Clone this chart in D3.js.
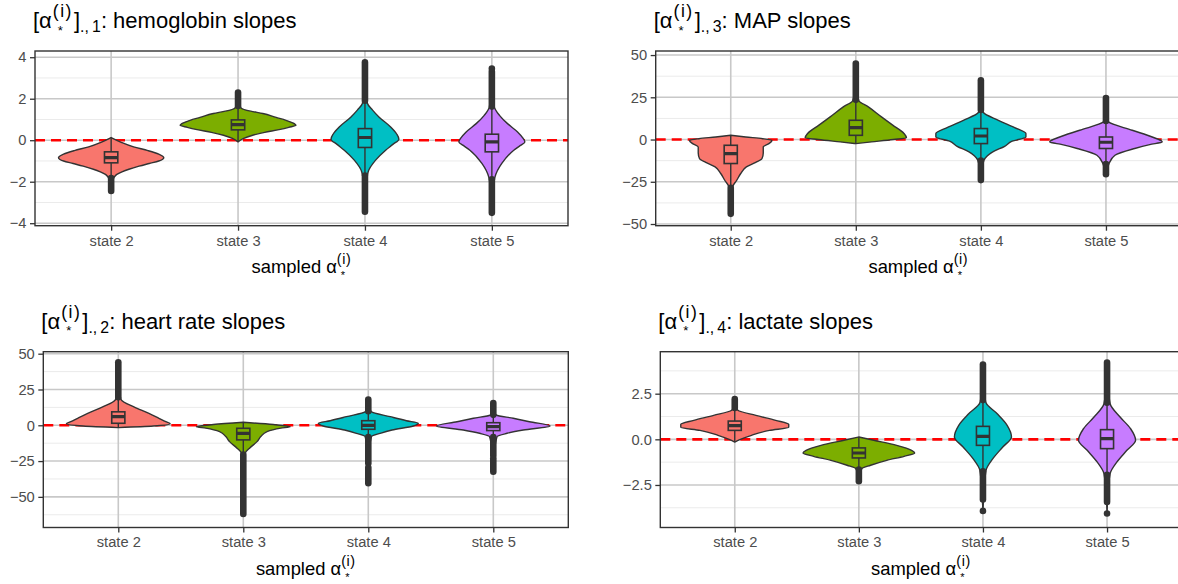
<!DOCTYPE html>
<html>
<head>
<meta charset="utf-8">
<script src="https://cdn.jsdelivr.net/npm/d3@7"></script>
<style>
  body { margin: 0; background: #fff; }
  svg { display: block; font-family: "Liberation Sans", Arial, Helvetica, sans-serif; }
  text { white-space: pre; }
</style>
</head>
<body>
<svg id="chart" width="1178" height="584"></svg>
<script>
// ---------- data ----------
const categories = ["state 2", "state 3", "state 4", "state 5"];
const fills = ["#F8766D", "#7CAE00", "#00BFC4", "#C77CFF"];

// violin profiles: [value, width as fraction of category step]
// boxes: [lower whisker, q1, median, q3, upper whisker]
// outliers: [from, to] runs of overplotted points

// hemoglobin slopes
const hemoTicks = [-4, -2, 0, 2, 4];
const hemoMinor = [-3, -1, 1, 3];
const hemoDomain = [-4.12, 4.30];
const hemoViolins = [
  [[0.13,0],[-0.1,0.16],[-0.32,0.354],[-0.5,0.58],[-0.67,0.75],[-0.84,0.83],[-1.0,0.75],[-1.12,0.6],[-1.25,0.44],[-1.4,0.28],[-1.53,0.17],[-1.65,0.09],[-1.77,0.05],[-2.0,0.02],[-2.45,0]],
  [[2.3,0],[1.8,0.02],[1.55,0.05],[1.4,0.2],[1.29,0.39],[1.1,0.6],[0.96,0.756],[0.84,0.86],[0.72,0.913],[0.62,0.8],[0.51,0.646],[0.38,0.42],[0.24,0.23],[0.08,0.08],[-0.08,0]],
  [[3.75,0],[2.5,0.01],[1.77,0.04],[1.45,0.12],[1.12,0.22],[0.64,0.405],[0.3,0.5],[0.05,0.535],[-0.2,0.44],[-0.48,0.326],[-0.96,0.168],[-1.53,0.05],[-2.5,0.01],[-3.45,0]],
  [[3.45,0],[2.5,0.01],[1.6,0.04],[1.2,0.12],[0.8,0.247],[0.4,0.405],[0.1,0.49],[-0.08,0.52],[-0.25,0.45],[-0.48,0.346],[-1.12,0.157],[-1.77,0.05],[-2.7,0.01],[-3.5,0]]
];
const hemoBoxes = [
  [-1.77, -1.09, -0.84, -0.56, 0.13],
  [-0.08, 0.5, 0.75, 0.98, 1.6],
  [-1.65, -0.35, 0.13, 0.56, 1.85],
  [-1.84, -0.56, -0.08, 0.29, 1.57]
];
const hemoOutliers = [
  [[-1.82, -2.45]],
  [[1.65, 2.3]],
  [[1.9, 3.75], [-1.7, -3.45]],
  [[1.62, 3.3], [3.45, 3.45], [-1.88, -3.5]]
];

// MAP slopes
const mapTicks = [-50, -25, 0, 25, 50];
const mapMinor = [-37.5, -12.5, 12.5, 37.5];
const mapDomain = [-51, 52.4];
const mapViolins = [
  [[2.5,0],[1.5,0.24],[0.5,0.51],[-0.5,0.66],[-2.4,0.61],[-4.4,0.52],[-8,0.52],[-11.2,0.5],[-13.5,0.4],[-16.2,0.25],[-20.1,0.16],[-24.1,0.096],[-28,0.03],[-36,0.01],[-44,0]],
  [[45,0],[30,0.01],[23,0.05],[19.3,0.2],[13.4,0.41],[8.5,0.59],[3.6,0.77],[1,0.81],[0,0.6],[-1.4,0.25],[-2.4,0]],
  [[35,0],[25,0.01],[17,0.03],[16,0.04],[11.4,0.28],[7.1,0.54],[3.6,0.72],[1.5,0.72],[-1,0.5],[-4,0.38],[-7.3,0.19],[-12.2,0.05],[-18,0.015],[-24,0]],
  [[24.5,0],[15,0.01],[11,0.03],[10.5,0.04],[5.5,0.42],[1.5,0.74],[-1.4,0.9],[-3,0.7],[-5.3,0.46],[-9.3,0.144],[-14.2,0.05],[-18,0.02],[-20.5,0]]
];
const mapBoxes = [
  [-28, -14.2, -8.3, -3.4, 2.5],
  [-2.4, 2.5, 7.1, 11.4, 23],
  [-12, -2.4, 2.1, 6.5, 17],
  [-14, -5.3, -1.6, 1.5, 10.5]
];
const mapOutliers = [
  [[-28.5, -44]],
  [[23.5, 45]],
  [[17.5, 35], [-12.5, -24]],
  [[11, 24.5], [-14.5, -20.5]]
];

// heart rate slopes
const hrTicks = [-50, -25, 0, 25, 50];
const hrMinor = [-62.5, -37.5, -12.5, 12.5, 37.5];
const hrDomain = [-71.4, 51.4];
const hrViolins = [
  [[44,0],[25,0.01],[18.7,0.04],[17.6,0.05],[12.9,0.25],[8.3,0.49],[4.9,0.65],[2.5,0.76],[1.1,0.83],[-0.5,0.56],[-1.6,0]],
  [[2.1,0],[0.5,0.48],[-1,0.75],[-2,0.6],[-4.4,0.38],[-7.9,0.28],[-11.4,0.22],[-16,0.1],[-19.5,0.03],[-40,0.01],[-62,0]],
  [[18,0],[12,0.02],[9.4,0.05],[6,0.35],[3.2,0.61],[1.4,0.8],[-0.5,0.72],[-3.3,0.38],[-5.6,0.19],[-7.9,0.05],[-20,0.01],[-41,0]],
  [[15.5,0],[9,0.02],[7.1,0.05],[4.9,0.32],[2.5,0.58],[-0.5,0.91],[-3.3,0.48],[-5.6,0.22],[-7.9,0.06],[-20,0.015],[-32.5,0]]
];
const hrBoxes = [
  [-1.6, 1.4, 6, 9.4, 18.7],
  [-20, -10.2, -5.6, -2.1, 2.1],
  [-8, -2.8, 0, 3.2, 9.5],
  [-8, -3.7, -1, 1.8, 7]
];
const hrOutliers = [
  [[19.5, 44]],
  [[-20.5, -62]],
  [[9.8, 18], [-8.3, -26.5], [-29.5, -40.5]],
  [[7.3, 15.5], [-8.3, -21], [-23, -32.5]]
];

// lactate slopes
const lacTicks = [-2.5, 0, 2.5];
const lacMinor = [-3.75, -1.25, 1.25, 3.75];
const lacDomain = [-4.83, 4.80];
const lacViolins = [
  [[2.2,0],[1.7,0.03],[1.59,0.05],[1.31,0.34],[1.04,0.66],[0.82,0.87],[0.66,0.87],[0.49,0.56],[0.22,0.27],[-0.02,0.08],[-0.15,0]],
  [[0.13,0],[-0.05,0.24],[-0.33,0.61],[-0.6,0.85],[-0.75,0.9],[-0.93,0.73],[-1.15,0.45],[-1.42,0.19],[-1.6,0.05],[-1.9,0.02],[-2.3,0]],
  [[4.1,0],[2.8,0.015],[2.0,0.05],[1.4,0.23],[0.77,0.39],[0.13,0.46],[-0.42,0.32],[-1.06,0.16],[-1.7,0.05],[-3,0.015],[-3.92,0]],
  [[4.2,0],[3,0.015],[1.95,0.05],[1.22,0.21],[0.58,0.38],[-0.05,0.46],[-0.6,0.32],[-1.24,0.16],[-1.88,0.05],[-3,0.015],[-4.06,0]]
];
const lacBoxes = [
  [-0.15, 0.49, 0.75, 1.0, 1.7],
  [-1.6, -1.02, -0.75, -0.47, 0.13],
  [-1.7, -0.33, 0.16, 0.71, 2.0],
  [-1.88, -0.51, 0.04, 0.53, 1.95]
];
const lacOutliers = [
  [[1.72, 2.2]],
  [[-1.65, -2.3]],
  [[2.15, 4.1], [-1.75, -3.3], [-3.92, -3.92]],
  [[2.0, 4.2], [-1.95, -3.43], [-4.06, -4.06]]
];

const panelTitles = ["hemoglobin slopes", "MAP slopes", "heart rate slopes", "lactate slopes"];
const panelIndex = ["1", "3", "2", "4"];

// ---------- layout ----------
const panels = [
  { rect: [35, 51, 568, 225.7],      ticks: hemoTicks, minor: hemoMinor, domain: hemoDomain, violins: hemoViolins, boxes: hemoBoxes, outliers: hemoOutliers, fmt: d3.format("d") },
  { rect: [655.7, 51, 1181, 225.7],  ticks: mapTicks,  minor: mapMinor,  domain: mapDomain,  violins: mapViolins,  boxes: mapBoxes,  outliers: mapOutliers,  fmt: d3.format("d") },
  { rect: [43.3, 351.7, 568.3, 527.5], ticks: hrTicks, minor: hrMinor,   domain: hrDomain,   violins: hrViolins,   boxes: hrBoxes,   outliers: hrOutliers,   fmt: d3.format("d") },
  { rect: [660.3, 351.7, 1181.5, 527.5], ticks: lacTicks, minor: lacMinor, domain: lacDomain, violins: lacViolins, boxes: lacBoxes, outliers: lacOutliers, fmt: d3.format(".1f") }
];

const svg = d3.select("#chart");
const TITLE_SIZE = 22, AXIS_TITLE_SIZE = 18.4, TICK_SIZE = 14.7;
const ink = "#333333";

// plotmath-like label built as one <text>: plain runs and stacked super/subscripts
function richText(parent, x, y, parts, size, anchor) {
  const probe = parent.append("text").attr("visibility", "hidden");
  const measure = (s, fs, sp) => {
    probe.attr("font-size", fs).attr("letter-spacing", sp || 0).text(s);
    return probe.node().getComputedTextLength();
  };
  const runs = [];
  let cx = 0;
  parts.forEach(p => {
    if (p.t != null) {
      runs.push({ s: p.t, x: cx, y: 0, fs: size });
      cx += measure(p.t, size);
    } else {
      let w = 0;
      if (p.sup != null) {
        const dx = p.supDx || 0, ss = size * (p.scale || 0.7);
        runs.push({ s: p.sup, x: cx + dx, y: -size * (p.supDy || 0.42), fs: ss, sp: p.spacing || 0 });
        w = Math.max(w, measure(p.sup, ss, p.spacing) + dx);
      }
      if (p.sub != null) {
        const dx = p.subDx || 0, ss = size * (p.subScale || p.scale || 0.7);
        runs.push({ s: p.sub, x: cx + dx, y: size * (p.subDy || 0.3), fs: ss });
        w = Math.max(w, measure(p.sub, ss) + dx);
      }
      cx += w + (p.after || 0);
    }
  });
  probe.remove();
  const tx = anchor === "middle" ? x - cx / 2 : x;
  const text = parent.append("text").attr("fill", "#000")
    .attr("transform", `translate(${tx},${y})`);
  runs.forEach(r => {
    text.append("tspan").attr("x", r.x).attr("y", r.y).attr("font-size", r.fs)
      .attr("letter-spacing", r.sp || 0).text(r.s);
  });
}

const minus = s => s.replace("-", "\u2212");

panels.forEach((P, pi) => {
  const [x0, y0, x1, y1] = P.rect;
  const g = svg.append("g");

  const x = d3.scalePoint().domain(categories).range([x0, x1]).padding(0.6);
  const y = d3.scaleLinear().domain(P.domain).range([y1, y0]);
  const step = x.step();
  const half = d3.scaleLinear().domain([0, 1]).range([0, step / 2]);

  // panel clip so nothing spills past the frame
  const clipId = "clip" + pi;
  svg.append("clipPath").attr("id", clipId).append("rect")
    .attr("x", x0).attr("y", y0).attr("width", x1 - x0).attr("height", y1 - y0);
  const plot = g.append("g").attr("clip-path", `url(#${clipId})`);

  // grid
  plot.selectAll(".minor").data(P.minor).join("line")
    .attr("x1", x0).attr("x2", x1).attr("y1", d => y(d)).attr("y2", d => y(d))
    .attr("stroke", "#ebebeb").attr("stroke-width", 1);
  plot.selectAll(".major").data(P.ticks).join("line")
    .attr("x1", x0).attr("x2", x1).attr("y1", d => y(d)).attr("y2", d => y(d))
    .attr("stroke", "#c8c8c8").attr("stroke-width", 1.6);
  plot.selectAll(".vmajor").data(categories).join("line")
    .attr("x1", d => x(d)).attr("x2", d => x(d)).attr("y1", y0).attr("y2", y1)
    .attr("stroke", "#c8c8c8").attr("stroke-width", 1.6);

  // reference line at zero
  plot.append("line")
    .attr("x1", x0).attr("x2", x1).attr("y1", y(0)).attr("y2", y(0))
    .attr("stroke", "#ff0000").attr("stroke-width", 2.6)
    .attr("stroke-dasharray", "10,6");

  // violins
  categories.forEach((c, i) => {
    const cx = x(c);
    const area = d3.area()
      .y(d => y(d[0]))
      .x0(d => cx - half(d[1]))
      .x1(d => cx + half(d[1]))
      .curve(d3.curveMonotoneY);
    plot.append("path").attr("d", area(P.violins[i]))
      .attr("fill", fills[i]).attr("stroke", ink).attr("stroke-width", 1.4)
      .attr("stroke-linejoin", "round");
  });

  // boxplots
  const bw = step * 0.105;
  categories.forEach((c, i) => {
    const cx = x(c);
    const [lo, q1, med, q3, hi] = P.boxes[i];
    plot.append("line").attr("x1", cx).attr("x2", cx).attr("y1", y(q3)).attr("y2", y(hi))
      .attr("stroke", ink).attr("stroke-width", 1.4);
    plot.append("line").attr("x1", cx).attr("x2", cx).attr("y1", y(q1)).attr("y2", y(lo))
      .attr("stroke", ink).attr("stroke-width", 1.4);
    plot.append("rect").attr("x", cx - bw / 2).attr("width", bw)
      .attr("y", y(q3)).attr("height", y(q1) - y(q3))
      .attr("fill", fills[i]).attr("stroke", ink).attr("stroke-width", 1.6);
    plot.append("line").attr("x1", cx - bw / 2).attr("x2", cx + bw / 2)
      .attr("y1", y(med)).attr("y2", y(med))
      .attr("stroke", ink).attr("stroke-width", 3.2);
    // overplotted outlying points
    plot.selectAll(null).data(P.outliers[i]).join("line")
      .attr("x1", cx).attr("x2", cx)
      .attr("y1", d => y(d[0])).attr("y2", d => y(d[1]))
      .attr("stroke", ink).attr("stroke-width", 6.6).attr("stroke-linecap", "round");
  });

  // frame
  g.append("rect").attr("x", x0).attr("y", y0).attr("width", x1 - x0).attr("height", y1 - y0)
    .attr("fill", "none").attr("stroke", ink).attr("stroke-width", 1.4);

  // y axis
  const yAxis = d3.axisLeft(y).tickValues(P.ticks).tickSize(5).tickPadding(3.5)
    .tickFormat(d => minus(P.fmt(d)));
  const ya = g.append("g").attr("transform", `translate(${x0},0)`).call(yAxis);
  ya.select(".domain").remove();
  ya.selectAll(".tick line").attr("stroke", ink).attr("stroke-width", 1.3);
  ya.selectAll(".tick text").attr("fill", "#4d4d4d").attr("font-size", TICK_SIZE)
    .attr("font-family", null);

  // x axis
  const xAxis = d3.axisBottom(x).tickSize(5).tickPadding(4.5);
  const xa = g.append("g").attr("transform", `translate(0,${y1})`).call(xAxis);
  xa.select(".domain").remove();
  xa.selectAll(".tick line").attr("stroke", ink).attr("stroke-width", 1.3);
  xa.selectAll(".tick text").attr("fill", "#4d4d4d").attr("font-size", TICK_SIZE)
    .attr("font-family", null);

  // axis title
  richText(svg, (x0 + x1) / 2, y1 + 47,
    [{ t: "sampled \u03b1" },
     { sup: "(i)", sub: "*", scale: 0.78, subScale: 0.6, supDy: 0.48, subDx: 4, subDy: 0.35, spacing: 0.6 }],
    AXIS_TITLE_SIZE, "middle");

  // panel title
  richText(svg, x0 - 2, y0 - 23,
    [{ t: "[\u03b1" },
     { sup: "(i)", sub: "*", scale: 0.8, subScale: 0.6, supDy: 0.48, supDx: 1, subDx: 6, subDy: 0.3, spacing: 1.5, after: 1 },
     { t: "]" }, { sub: ".,\u2009" + panelIndex[pi], scale: 0.72, subDy: 0.2 }, { t: ": " + panelTitles[pi] }],
    TITLE_SIZE, "start");
});
</script>
</body>
</html>
